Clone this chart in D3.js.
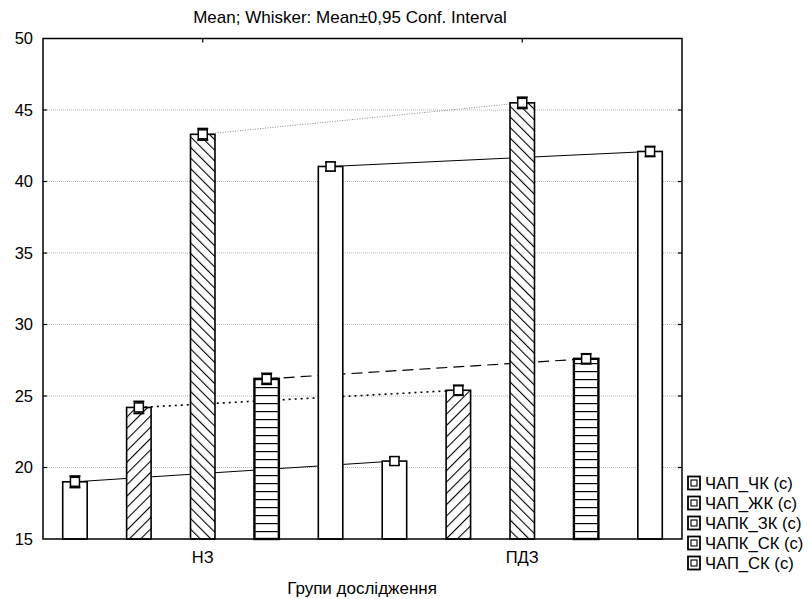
<!DOCTYPE html>
<html>
<head>
<meta charset="utf-8">
<script src="https://cdn.jsdelivr.net/npm/d3@7"></script>
<style>
  html, body { margin: 0; padding: 0; background: #fff; }
  svg { display: block; font-family: "Liberation Sans", Arial, sans-serif; }
</style>
</head>
<body>
<svg id="chart" width="808" height="599"></svg>
<script>
// Groups on the x axis and the five measured series
const groups = ["НЗ", "ПДЗ"];
const series = ["ЧАП_ЧК (с)", "ЧАП_ЖК (с)", "ЧАПК_ЗК (с)", "ЧАПК_СК (с)", "ЧАП_СК (с)"];

// Means per series, in group order [НЗ, ПДЗ]
const meanChk  = [19.0, 20.45];
const meanZhk  = [24.2, 25.4];
const meanZk   = [43.3, 45.5];
const meanPkSk = [26.2, 27.6];
const meanSk   = [41.05, 42.1];

// Half-widths of the 0.95 confidence intervals
const ciChk  = [0.40, 0.25];
const ciZhk  = [0.42, 0.35];
const ciZk   = [0.40, 0.39];
const ciPkSk = [0.38, 0.35];
const ciSk   = [0.30, 0.35];

const yTicks = [15, 20, 25, 30, 35, 40, 45, 50];

const means = [meanChk, meanZhk, meanZk, meanPkSk, meanSk];
const cis = [ciChk, ciZhk, ciZk, ciPkSk, ciSk];

// Visual styling per series
const fills = ["none", "diagUp", "diagDown", "horiz", "none"];
const lineDash = [null, "2,4", "1,1.5", "11,6", null];
const lineColor = ["#000", "#000", "#8a8a8a", "#000", "#000"];
const lineWidth = [1, 1.6, 1, 1.2, 1];

const FONT = "Liberation Sans, Arial, sans-serif";
const svg = d3.select("#chart");
const m = { left: 43, right: 682, top: 38.5, bottom: 539 };

const x0 = d3.scaleBand().domain(groups).range([m.left, m.right]);
const x1 = d3.scaleBand().domain(series).range([0, x0.bandwidth()])
  .paddingInner(0.617).paddingOuter(0.3085);
const y = d3.scaleLinear().domain([15, 50]).range([m.bottom, m.top]);

// Hatch patterns
const defs = svg.append("defs");
const pUp = defs.append("pattern").attr("id", "diagUp")
  .attr("patternUnits", "userSpaceOnUse").attr("width", 8).attr("height", 8)
  .attr("patternTransform", "rotate(45)");
pUp.append("rect").attr("width", 8).attr("height", 8).attr("fill", "#fff");
pUp.append("line").attr("x1", 0).attr("y1", 0).attr("x2", 0).attr("y2", 8)
  .attr("stroke", "#000").attr("stroke-width", 2.2);

const pDown = defs.append("pattern").attr("id", "diagDown")
  .attr("patternUnits", "userSpaceOnUse").attr("width", 7.5).attr("height", 7.5)
  .attr("patternTransform", "rotate(-45)");
pDown.append("rect").attr("width", 7.5).attr("height", 7.5).attr("fill", "#fff");
pDown.append("line").attr("x1", 0).attr("y1", 0).attr("x2", 0).attr("y2", 7.5)
  .attr("stroke", "#000").attr("stroke-width", 2.2);

const pHor = defs.append("pattern").attr("id", "horiz")
  .attr("patternUnits", "userSpaceOnUse").attr("width", 8).attr("height", 8)
  .attr("y", m.bottom);
pHor.append("rect").attr("width", 8).attr("height", 8).attr("fill", "#fff");
pHor.append("line").attr("x1", 0).attr("y1", 0).attr("x2", 8).attr("y2", 0)
  .attr("stroke", "#000").attr("stroke-width", 2.4);

// Grid lines
svg.append("g").selectAll("line")
  .data(yTicks.filter(t => t > 15 && t < 50))
  .join("line")
  .attr("x1", m.left).attr("x2", m.right)
  .attr("y1", d => y(d)).attr("y2", d => y(d))
  .attr("stroke", "#b5b5b5").attr("stroke-width", 1)
  .attr("stroke-dasharray", "1,1");

const cx = (s, g) => x0(groups[g]) + x1(series[s]) + x1.bandwidth() / 2;

// Lines joining the same series across groups (behind the bars)
series.forEach((s, i) => {
  svg.append("line")
    .attr("x1", cx(i, 0)).attr("y1", y(means[i][0]))
    .attr("x2", cx(i, 1)).attr("y2", y(means[i][1]))
    .attr("stroke", lineColor[i]).attr("stroke-width", lineWidth[i])
    .attr("stroke-dasharray", lineDash[i]);
});

// Bars
const barData = [];
groups.forEach((g, gi) => series.forEach((s, si) => barData.push({ g, gi, s, si })));

svg.append("g").selectAll("rect")
  .data(barData)
  .join("rect")
  .attr("x", d => x0(d.g) + x1(d.s))
  .attr("y", d => y(means[d.si][d.gi]))
  .attr("width", x1.bandwidth())
  .attr("height", d => y(15) - y(means[d.si][d.gi]))
  .attr("fill", d => fills[d.si] === "none" ? "#fff" : `url(#${fills[d.si]})`)
  .attr("stroke", "#000")
  .attr("stroke-width", d => d.si === 3 ? 2.4 : 1.6);

// Whiskers and mean markers
const wg = svg.append("g");
barData.forEach(d => {
  const xc = cx(d.si, d.gi);
  const mu = means[d.si][d.gi], ci = cis[d.si][d.gi];
  wg.append("line").attr("x1", xc).attr("x2", xc)
    .attr("y1", y(mu + ci)).attr("y2", y(mu - ci))
    .attr("stroke", "#000").attr("stroke-width", 1.5);
  [mu + ci, mu - ci].forEach(v => {
    wg.append("line").attr("x1", xc - 5.5).attr("x2", xc + 5.5)
      .attr("y1", y(v)).attr("y2", y(v))
      .attr("stroke", "#000").attr("stroke-width", 1.8);
  });
  wg.append("rect").attr("x", xc - 4.5).attr("y", y(mu) - 4.5)
    .attr("width", 9).attr("height", 9)
    .attr("fill", "#fff").attr("stroke", "#000").attr("stroke-width", 1.5);
});

// Frame
svg.append("rect")
  .attr("x", m.left).attr("y", m.top)
  .attr("width", m.right - m.left).attr("height", m.bottom - m.top)
  .attr("fill", "none").attr("stroke", "#000").attr("stroke-width", 1.5);

// Y axis (left) and inward ticks on both sides
const yAxis = d3.axisLeft(y).tickValues(yTicks).tickSize(0).tickPadding(10);
const ya = svg.append("g").attr("transform", `translate(${m.left},0)`).call(yAxis);
ya.select(".domain").remove();
ya.selectAll("text").attr("font-size", 16.5).attr("fill", "#000").attr("font-family", FONT);

const inner = yTicks.filter(t => t > 15 && t < 50);
svg.append("g").selectAll("line")
  .data(inner)
  .join("line")
  .attr("x1", m.right - 4).attr("x2", m.right)
  .attr("y1", d => y(d)).attr("y2", d => y(d))
  .attr("stroke", "#000").attr("stroke-width", 1.2);
svg.append("g").selectAll("line")
  .data(inner)
  .join("line")
  .attr("x1", m.left).attr("x2", m.left + 4)
  .attr("y1", d => y(d)).attr("y2", d => y(d))
  .attr("stroke", "#000").attr("stroke-width", 1.2);

// X axis labels and top inward ticks
const xAxis = d3.axisBottom(x0).tickSize(0).tickPadding(12.5);
const xa = svg.append("g").attr("transform", `translate(0,${m.bottom})`).call(xAxis);
xa.select(".domain").remove();
xa.selectAll("text").attr("font-size", 16.5).attr("fill", "#000").attr("font-family", FONT);

svg.append("g").selectAll("line")
  .data(groups)
  .join("line")
  .attr("x1", d => x0(d) + x0.bandwidth() / 2).attr("x2", d => x0(d) + x0.bandwidth() / 2)
  .attr("y1", m.top).attr("y2", m.top + 4)
  .attr("stroke", "#000").attr("stroke-width", 1.2);

// Titles
svg.append("text")
  .attr("x", 350).attr("y", 23)
  .attr("text-anchor", "middle").attr("font-size", 17)
  .text("Mean; Whisker: Mean±0,95 Conf. Interval");

svg.append("text")
  .attr("x", 362).attr("y", 594)
  .attr("text-anchor", "middle").attr("font-size", 17)
  .text("Групи дослідження");

// Legend
const lg = svg.append("g").attr("transform", "translate(688,476.5)");
series.forEach((s, i) => {
  const row = lg.append("g").attr("transform", `translate(0,${i * 20})`);
  row.append("rect").attr("x", 0).attr("y", 0).attr("width", 12).attr("height", 13)
    .attr("fill", "#fff").attr("stroke", "#000").attr("stroke-width", 1.8);
  row.append("rect").attr("x", 3).attr("y", 3.5).attr("width", 6).attr("height", 6)
    .attr("fill", "#fff").attr("stroke", "#000").attr("stroke-width", 1.1);
  row.append("text").attr("x", 17).attr("y", 12)
    .attr("font-size", 16.6).attr("font-family", FONT).text(s);
});
</script>
</body>
</html>
